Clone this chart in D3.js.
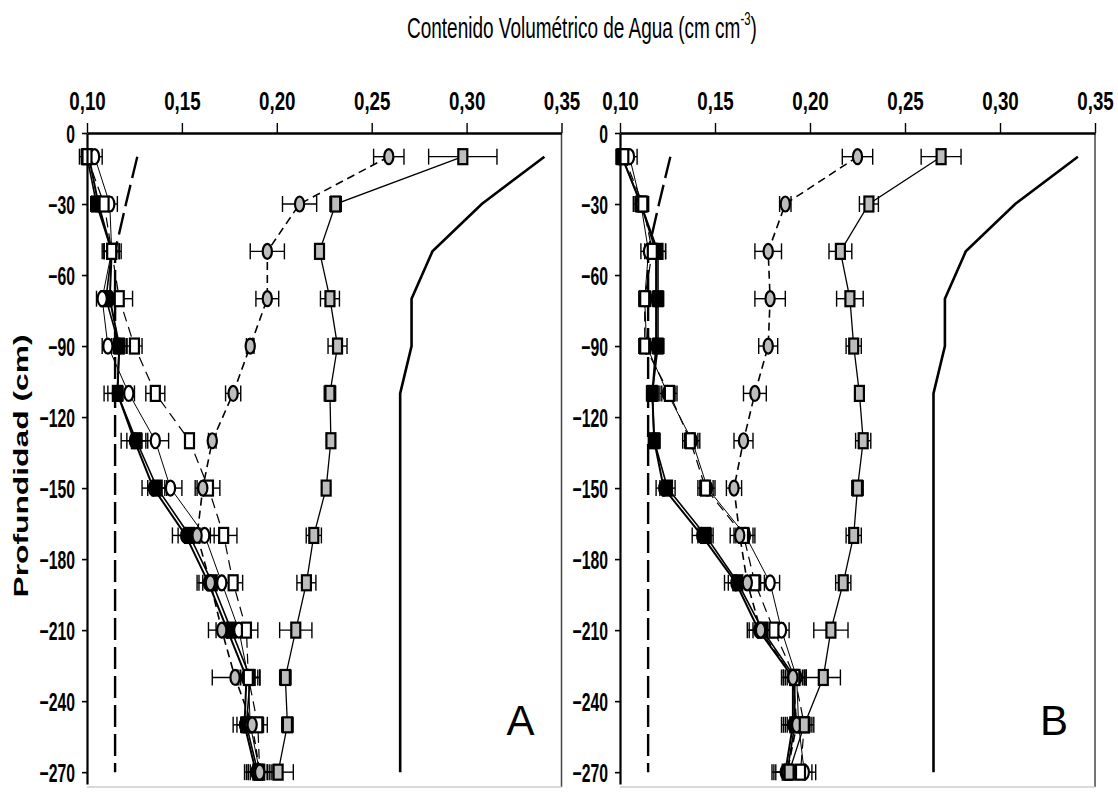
<!DOCTYPE html>
<html>
<head>
<meta charset="utf-8">
<script src="https://cdn.jsdelivr.net/npm/d3@7"></script>
<style>
  body { margin: 0; background: #fff; }
  svg { display: block; font-family: Arial, "Liberation Sans", sans-serif; }
</style>
</head>
<body>
<div id="chart"></div>
<script>
// depth of every sampling point (cm)
var depths = [-10, -30, -50, -70, -90, -110, -130, -150, -170, -190, -210, -230, -250, -270];
var xTicks = [0.10, 0.15, 0.20, 0.25, 0.30, 0.35];
var yTicks = [0, -30, -60, -90, -120, -150, -180, -210, -240, -270];

// reference curves (same in both panels)
var ccDepths = [-10, -30, -50, -70, -90, -110, -270];
var capacidadCampo = [0.341, 0.308, 0.282, 0.271, 0.271, 0.265, 0.265];
var pmpDepths = [-10, -30, -50, -270];
var puntoMarchitez = [0.1265, 0.1205, 0.1148, 0.1148];

// panel A
var aNegroCirculo   = [0.101, 0.106, 0.113, 0.112, 0.117, 0.116, 0.125, 0.135, 0.152, 0.164, 0.174, 0.184, 0.183, 0.189];
var aNegroCuadrado  = [0.100, 0.105, 0.113, 0.110, 0.117, 0.116, 0.126, 0.137, 0.154, 0.166, 0.176, 0.186, 0.184, 0.190];
var aBlancoCirculo  = [0.104, 0.112, 0.113, 0.108, 0.111, 0.122, 0.136, 0.144, 0.162, 0.171, 0.180, 0.185, 0.186, 0.191];
var aBlancoCuadrado = [0.100, 0.109, 0.113, 0.117, 0.125, 0.136, 0.154, 0.164, 0.172, 0.177, 0.184, 0.185, 0.190, 0.191];
var aGrisCirculo    = [0.259, 0.212, 0.195, 0.195, 0.186, 0.177, 0.166, 0.161, 0.158, 0.165, 0.171, 0.178, 0.187, 0.191];
var aGrisCuadrado   = [0.298, 0.231, 0.2225, 0.228, 0.232, 0.228, 0.2285, 0.226, 0.2195, 0.2156, 0.210, 0.2045, 0.2056, 0.2007];

var aErrNegroCirculo   = [0.003, 0.004, 0.005, 0.003, 0.004, 0.007, 0.007, 0.006, 0.007, 0.006, 0.006, 0.004, 0.006, 0.006];
var aErrNegroCuadrado  = [0.003, 0.003, 0.004, 0.003, 0.003, 0.005, 0.005, 0.005, 0.006, 0.005, 0.005, 0.005, 0.005, 0.005];
var aErrBlancoCirculo  = [0.004, 0.004, 0.004, 0.003, 0.003, 0.003, 0.007, 0.006, 0.005, 0.006, 0.005, 0.006, 0.005, 0.005];
var aErrBlancoCuadrado = [0.004, 0.004, 0.004, 0.007, 0.004, 0.005, 0.002, 0.006, 0.007, 0.005, 0.006, 0.006, 0.005, 0.006];
var aErrGrisCirculo    = [0.008, 0.009, 0.009, 0.006, 0.002, 0.004, 0.002, 0.004, 0.003, 0.006, 0.007, 0.012, 0.006, 0.007];
var aErrGrisCuadrado   = [0.018, 0.003, 0.002, 0.005, 0.005, 0.003, 0.002, 0.002, 0.004, 0.005, 0.0085, 0.003, 0.003, 0.008];

// panel B
var bNegroCirculo   = [0.101, 0.111, 0.119, 0.119, 0.119, 0.117, 0.118, 0.123, 0.143, 0.161, 0.173, 0.191, 0.191, 0.187];
var bNegroCuadrado  = [0.101, 0.111, 0.120, 0.120, 0.120, 0.117, 0.118, 0.125, 0.145, 0.162, 0.175, 0.192, 0.192, 0.188];
var bBlancoCirculo  = [0.105, 0.111, 0.115, 0.113, 0.114, 0.125, 0.138, 0.146, 0.166, 0.179, 0.185, 0.193, 0.194, 0.197];
var bBlancoCuadrado = [0.102, 0.112, 0.117, 0.113, 0.113, 0.126, 0.137, 0.145, 0.165, 0.171, 0.181, 0.192, 0.197, 0.195];
var bGrisCirculo    = [0.225, 0.187, 0.178, 0.179, 0.178, 0.171, 0.165, 0.160, 0.163, 0.167, 0.174, 0.191, 0.193, 0.188];
var bGrisCuadrado   = [0.269, 0.231, 0.216, 0.221, 0.223, 0.226, 0.228, 0.225, 0.223, 0.2175, 0.211, 0.207, 0.197, 0.189];

var bErrNegroCirculo   = [0.003, 0.004, 0.005, 0.003, 0.004, 0.003, 0.003, 0.004, 0.005, 0.006, 0.006, 0.005, 0.006, 0.007];
var bErrNegroCuadrado  = [0.003, 0.003, 0.004, 0.003, 0.003, 0.003, 0.003, 0.004, 0.004, 0.005, 0.005, 0.005, 0.006, 0.006];
var bErrBlancoCirculo  = [0.004, 0.003, 0.004, 0.003, 0.004, 0.004, 0.004, 0.004, 0.005, 0.005, 0.004, 0.005, 0.006, 0.006];
var bErrBlancoCuadrado = [0.003, 0.003, 0.004, 0.003, 0.003, 0.004, 0.004, 0.004, 0.005, 0.005, 0.005, 0.006, 0.005, 0.006];
var bErrGrisCirculo    = [0.008, 0.003, 0.007, 0.008, 0.005, 0.006, 0.005, 0.004, 0.005, 0.006, 0.006, 0.006, 0.006, 0.007];
var bErrGrisCuadrado   = [0.0105, 0.005, 0.006, 0.007, 0.004, 0.002, 0.004, 0.003, 0.004, 0.004, 0.009, 0.009, 0.004, 0.003];

// marker/line style of each treatment
var estilos = [
  { shape: "square", fill: "#000",    dash: null,   width: 1.6 },
  { shape: "circle", fill: "#000",    dash: null,   width: 2 },
  { shape: "circle", fill: "#fff",    dash: null,   width: 1 },
  { shape: "square", fill: "#fff",    dash: "10,6", width: 1.2 },
  { shape: "circle", fill: "#bdbdbd", dash: "8,5",  width: 1.6 },
  { shape: "square", fill: "#bdbdbd", dash: null,   width: 1.3 }
];

var panelA = {
  label: "A", left: 87, right: 561.5,
  series: [aNegroCuadrado, aNegroCirculo, aBlancoCirculo, aBlancoCuadrado, aGrisCirculo, aGrisCuadrado],
  errors: [aErrNegroCuadrado, aErrNegroCirculo, aErrBlancoCirculo, aErrBlancoCuadrado, aErrGrisCirculo, aErrGrisCuadrado]
};
var panelB = {
  label: "B", left: 620, right: 1095,
  series: [bNegroCuadrado, bNegroCirculo, bBlancoCirculo, bBlancoCuadrado, bGrisCirculo, bGrisCuadrado],
  errors: [bErrNegroCuadrado, bErrNegroCirculo, bErrBlancoCirculo, bErrBlancoCuadrado, bErrGrisCirculo, bErrGrisCuadrado]
};

var W = 1118, H = 793;
var top0 = 133, bottom0 = 784;

var svg = d3.select("#chart").append("svg").attr("width", W).attr("height", H);
var y = d3.scaleLinear().domain([0, -275]).range([top0, bottom0]);
var comma = d3.formatLocale({ decimal: ",", thousands: ".", grouping: [3], currency: ["", ""] });

drawPanel(panelA);
drawPanel(panelB);

function drawPanel(p) {
  var x = d3.scaleLinear().domain([0.10, 0.35]).range([p.left, p.right]);
  var g = svg.append("g");

  // right / bottom frame
  g.append("line").attr("x1", p.right).attr("x2", p.right).attr("y1", top0).attr("y2", bottom0 + 3)
    .attr("stroke", "#444").attr("stroke-width", 1.5);
  g.append("line").attr("x1", p.left).attr("x2", p.right).attr("y1", bottom0 + 3).attr("y2", bottom0 + 3)
    .attr("stroke", "#ccc").attr("stroke-width", 1.5);

  var line = d3.line()
    .x(function (d) { return x(d[0]); })
    .y(function (d) { return y(d[1]); });

  // reference lines
  g.append("path").datum(d3.zip(capacidadCampo, ccDepths))
    .attr("d", line).attr("fill", "none").attr("stroke", "#000").attr("stroke-width", 2.6);
  g.append("path").datum(d3.zip(puntoMarchitez, pmpDepths))
    .attr("d", line).attr("fill", "none").attr("stroke", "#000").attr("stroke-width", 2.4)
    .attr("stroke-dasharray", "22,7");

  // series lines
  p.series.forEach(function (vals, i) {
    var st = estilos[i];
    g.append("path").datum(d3.zip(vals, depths))
      .attr("d", line).attr("fill", "none").attr("stroke", "#000")
      .attr("stroke-width", st.width).attr("stroke-dasharray", st.dash);
  });

  // error bars
  p.series.forEach(function (vals, i) {
    var pts = d3.zip(vals, depths, p.errors[i]);
    var eb = g.append("g").attr("stroke", "#000").attr("stroke-width", 1.4);
    eb.selectAll(".h").data(pts).enter().append("line")
      .attr("x1", function (d) { return x(d[0] - d[2]); })
      .attr("x2", function (d) { return x(d[0] + d[2]); })
      .attr("y1", function (d) { return y(d[1]); })
      .attr("y2", function (d) { return y(d[1]); });
    [-1, 1].forEach(function (s) {
      eb.selectAll(".c" + s).data(pts).enter().append("line")
        .attr("x1", function (d) { return x(d[0] + s * d[2]); })
        .attr("x2", function (d) { return x(d[0] + s * d[2]); })
        .attr("y1", function (d) { return y(d[1]) - 8; })
        .attr("y2", function (d) { return y(d[1]) + 8; });
    });
  });

  // markers
  p.series.forEach(function (vals, i) {
    var st = estilos[i];
    var pts = d3.zip(vals, depths);
    var mk = g.append("g").attr("fill", st.fill).attr("stroke", "#000").attr("stroke-width", 2.2);
    if (st.shape === "circle") {
      mk.selectAll("ellipse").data(pts).enter().append("ellipse")
        .attr("cx", function (d) { return x(d[0]); })
        .attr("cy", function (d) { return y(d[1]); })
        .attr("rx", 4.6).attr("ry", 7.5);
    } else {
      mk.selectAll("rect").data(pts).enter().append("rect")
        .attr("x", function (d) { return x(d[0]) - 4.5; })
        .attr("y", function (d) { return y(d[1]) - 7.5; })
        .attr("width", 9).attr("height", 15);
    }
  });

  // axes (labels squeezed horizontally, the original face is condensed)
  var ax = g.append("g").attr("transform", "translate(0," + top0 + ")")
    .call(d3.axisTop(x).tickValues(xTicks).tickFormat(comma.format(".2f")).tickSize(10).tickSizeOuter(0).tickPadding(13));
  ax.select(".domain").attr("stroke-width", 2.6);
  ax.selectAll(".tick line").attr("stroke-width", 1.4);
  ax.selectAll("text").attr("font-size", 26).attr("font-weight", "bold").attr("fill", "#000")
    .attr("font-family", "Arial, 'Liberation Sans', sans-serif")
    .attr("transform", "scale(0.72,1)");

  var ky = 0.63;
  var ay = g.append("g").attr("transform", "translate(" + p.left + ",0)")
    .call(d3.axisLeft(y).tickValues(yTicks).tickSize(5).tickSizeOuter(0).tickPadding(7));
  ay.select(".domain").attr("stroke-width", 2.2);
  ay.selectAll(".tick line").attr("stroke-width", 1.6);
  ay.selectAll("text").attr("font-size", 25).attr("font-weight", "bold").attr("fill", "#000")
    .attr("dy", "0.36em").attr("font-family", "Arial, 'Liberation Sans', sans-serif")
    .attr("x", -12 / ky).attr("transform", "scale(" + ky + ",1)");

  g.append("text").attr("x", p.right - 55).attr("y", 735)
    .attr("font-size", 42).attr("font-family", "Arial, 'Liberation Sans', sans-serif")
    .text(p.label);
}

// title
var tg = svg.append("g");
var tt = tg.append("text").attr("font-size", 30).attr("text-anchor", "start");
tt.append("tspan").text("Contenido Volumétrico de Agua (cm cm");
tt.append("tspan").attr("font-size", 18).attr("dy", -13).text("-3");
tt.append("tspan").attr("dy", 13).text(")");
var tb = tt.node().getBBox();
tg.attr("transform", "translate(407,38) scale(" + (350 / tb.width) + ",1)");

// y axis title (stretched along its length like the original)
svg.append("text")
  .attr("transform", "translate(28,466) rotate(-90)")
  .attr("text-anchor", "middle")
  .attr("font-size", 20).attr("font-weight", "bold")
  .attr("textLength", 263).attr("lengthAdjust", "spacingAndGlyphs")
  .text("Profundidad (cm)");
</script>
</body>
</html>
